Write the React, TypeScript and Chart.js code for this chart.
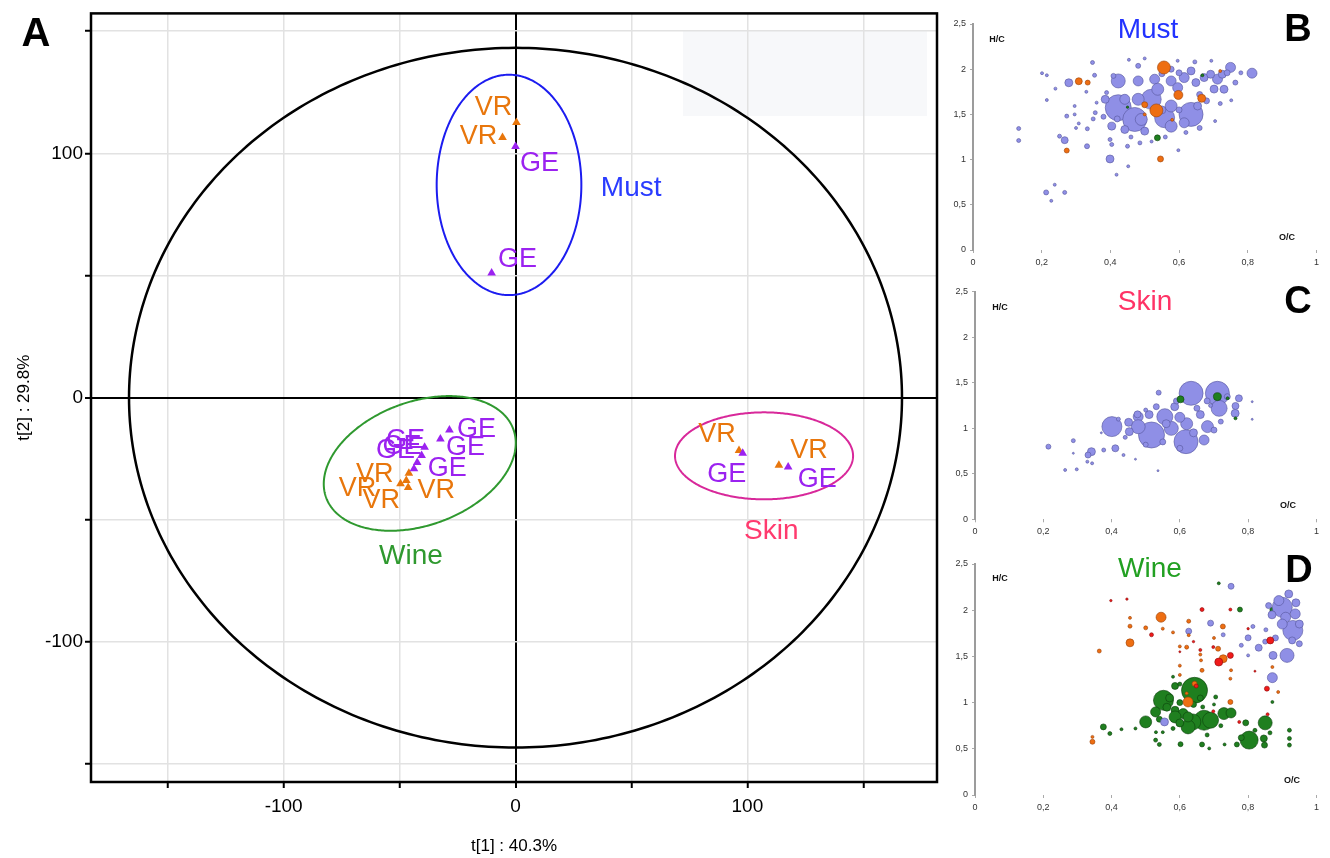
import React, { useEffect, useRef } from 'react';
import { Chart, registerables } from 'chart.js';
Chart.register(...registerables);

const NARROW = "'Liberation Sans Narrow', 'Arial Narrow', 'Liberation Sans', Arial, sans-serif";
const SANS = "'Liberation Sans', Arial, sans-serif";

const ORANGE = '#e8760c';
const PURPLE = '#9b22f0';

// ---------- Panel A: PCA scores ----------
const vrT1 = [0.4, -5.6, -46.0, -47.1, -49.6, -46.3, 96.4, 113.6];
const vrT2 = [112.6, 106.5, -30.9, -33.9, -35.2, -36.8, -21.6, -27.7];
const geT1 = [0.0, -10.3, -28.5, -32.4, -39.2, -40.5, -42.4, -43.8, 98.0, 117.6];
const geT2 = [102.8, 51.0, -13.2, -16.9, -20.3, -23.7, -26.5, -29.1, -22.7, -28.4];

// label placement (pixel offsets from the marker) - layout only
const vrLabelOffset = [[-23, -17], [-24, -3], [-34, -1], [-25, 18], [-43, 3], [28, 1], [-22, -18], [30, -17]];
const geLabelOffset = [[24, 15], [26, -16], [27, -3], [25, 6], [-19, -9], [-26, -7], [30, 4], [-12, -24], [-16, 19], [29, 10]];

const xTickLabels = [-100, 0, 100];
const yTickLabels = [-100, 0, 100];

// confidence ellipses (centre + semi-axis vectors, data units)
const hotelling = { c: [0, 0], u: [166.7, 0], v: [0, 143.2], color: '#000', width: 2.5 };
const groupEllipses = [
  { c: [-2.8, 87.1], u: [31.2, 0], v: [0, 45.1], color: '#1c1cf0', width: 2 },
  { c: [-41.3, -26.9], u: [40.39, 13.96], v: [9.11, -23.77], color: '#2f992f', width: 2 },
  { c: [107.2, -23.8], u: [38.4, 0], v: [0, 17.8], color: '#d8289a', width: 2 },
];
const groupNames = ['Must', 'Wine', 'Skin'];
const groupNameT1 = [49.9, -45.1, 110.3];
const groupNameT2 = [86.5, -63.9, -53.7];
const groupNameColors = ['#2a3cff', '#2f992f', '#ff3a6e'];

// ---------- Panels B-D: van Krevelen (O/C, H/C, size) ----------
const mustLavender = [
  [0.423, 1.574, 13], [0.471, 1.444, 12], [0.635, 1.5, 12], [0.558, 1.463, 10], [0.519, 1.667, 10], [0.423, 1.87, 7],
  [0.75, 2.02, 5], [0.8125, 1.956, 5], [0.399, 1.007, 4], [0.279, 1.85, 4], [0.267, 1.215, 3.5], [0.702, 1.78, 4],
  [0.712, 1.89, 5], [0.673, 1.907, 4], [0.481, 1.87, 5], [0.529, 1.889, 5], [0.577, 1.87, 5], [0.615, 1.907, 5],
  [0.635, 1.981, 4], [0.649, 1.852, 4], [0.692, 1.944, 4], [0.726, 1.944, 4], [0.731, 1.778, 4], [0.481, 1.667, 6],
  [0.442, 1.667, 5], [0.385, 1.667, 4], [0.49, 1.444, 6], [0.577, 1.37, 6], [0.615, 1.407, 5], [0.5, 1.315, 4],
  [0.442, 1.333, 4], [0.577, 1.593, 6], [0.538, 1.778, 6], [0.596, 1.796, 5], [0.654, 1.593, 4], [0.404, 1.37, 4],
  [0.133, 1.344, 2], [0.133, 1.211, 2], [0.213, 0.637, 2.5], [0.238, 0.722, 1.5], [0.228, 0.544, 1.5], [0.267, 0.637, 2],
  [0.201, 1.956, 1.5], [0.215, 1.933, 1.5], [0.24, 1.785, 1.5], [0.215, 1.659, 1.5], [0.252, 1.259, 2], [0.273, 1.481, 2],
  [0.296, 1.5, 1.5], [0.296, 1.593, 1.5], [0.308, 1.4, 1.5], [0.332, 1.148, 2.5], [0.333, 1.341, 2], [0.348, 2.074, 2],
  [0.354, 1.933, 2], [0.356, 1.519, 2], [0.38, 1.474, 2.5], [0.389, 1.741, 2], [0.399, 1.222, 2], [0.404, 1.167, 2],
  [0.418, 0.833, 1.5], [0.452, 0.926, 1.5], [0.45, 1.148, 2], [0.454, 2.104, 1.5], [0.5, 2.119, 1.5], [0.596, 2.093, 1.5],
  [0.646, 2.081, 2], [0.694, 2.093, 1.5], [0.764, 1.852, 2.5], [0.752, 1.656, 1.5], [0.705, 1.426, 1.5], [0.598, 1.104, 1.5],
  [0.486, 1.185, 2], [0.409, 1.926, 2.5], [0.481, 2.037, 2.5], [0.577, 2.0, 3], [0.36, 1.63, 1.5], [0.33, 1.75, 1.5],
  [0.46, 1.25, 2], [0.52, 1.2, 1.5], [0.56, 1.25, 2], [0.62, 1.3, 2], [0.66, 1.35, 2.5], [0.68, 1.65, 3], [0.72, 1.62, 2],
  [0.78, 1.96, 2], [0.74, 1.96, 3], [0.3, 1.35, 1.5], [0.35, 1.45, 2], [0.42, 1.45, 3], [0.55, 1.55, 4], [0.6, 1.55, 3],
  [0.66, 1.72, 3], [0.6, 1.96, 3], [0.55, 1.95, 3],
];
const mustOrange = [
  [0.556, 2.019, 6.5], [0.534, 1.544, 6.5], [0.598, 1.715, 4.5], [0.666, 1.678, 4], [0.308, 1.867, 3.5], [0.334, 1.852, 2.5],
  [0.546, 1.007, 3], [0.273, 1.1, 2.5], [0.5, 1.607, 3], [0.5, 1.5, 1.5], [0.58, 1.44, 1.5], [0.72, 1.98, 1.5],
];
const mustGreen = [[0.537, 1.241, 3], [0.668, 1.933, 1.5], [0.45, 1.58, 1.2]];

const skinLavender = [
  [0.401, 1.018, 10], [0.517, 0.926, 13], [0.618, 0.853, 12], [0.633, 1.384, 12], [0.71, 1.384, 12], [0.715, 1.219, 8],
  [0.681, 1.018, 6], [0.671, 0.871, 5], [0.575, 0.999, 7], [0.556, 1.127, 8], [0.478, 1.127, 5], [0.478, 1.017, 7],
  [0.62, 1.05, 6], [0.585, 1.237, 4], [0.762, 1.164, 4], [0.773, 1.329, 3.5], [0.763, 1.245, 3.5], [0.452, 0.963, 4],
  [0.45, 1.065, 4], [0.476, 1.153, 3.5], [0.411, 0.78, 3.5], [0.341, 0.743, 4], [0.331, 0.706, 3], [0.215, 0.798, 2.5],
  [0.288, 0.864, 2], [0.377, 0.761, 2], [0.538, 1.391, 2.5], [0.531, 1.237, 3], [0.51, 1.15, 4], [0.739, 1.347, 3],
  [0.72, 1.073, 2.5], [0.66, 1.15, 4], [0.6, 1.12, 5], [0.64, 0.95, 4], [0.55, 0.85, 3], [0.5, 0.82, 2.5], [0.59, 1.3, 3],
  [0.68, 1.3, 3], [0.65, 1.22, 3], [0.7, 0.98, 3], [0.42, 1.1, 2], [0.44, 0.9, 2], [0.6, 0.78, 3], [0.69, 1.25, 2],
  [0.56, 1.05, 4], [0.5, 1.2, 2], [0.264, 0.542, 1.5], [0.343, 0.615, 1.5], [0.298, 0.549, 1.5], [0.812, 1.292, 1],
  [0.812, 1.098, 1], [0.536, 0.534, 1], [0.435, 0.706, 1.5], [0.288, 0.725, 1], [0.329, 0.633, 1.5], [0.37, 0.95, 1],
  [0.47, 0.66, 1],
];
const skinGreen = [[0.602, 1.318, 3.5], [0.71, 1.347, 4], [0.763, 1.109, 1.5], [0.74, 1.33, 1.5]];

const wineGreen = [
  [0.643, 1.133, 13], [0.552, 1.025, 10], [0.671, 0.809, 10], [0.638, 0.791, 8], [0.69, 0.809, 8], [0.803, 0.594, 9],
  [0.85, 0.781, 7], [0.729, 0.881, 6], [0.75, 0.888, 5], [0.5, 0.791, 6], [0.529, 0.899, 5], [0.586, 0.917, 4],
  [0.61, 0.881, 5], [0.586, 1.18, 3.5], [0.376, 0.737, 3], [0.846, 0.612, 3.5], [0.848, 0.54, 3], [0.793, 0.781, 3],
  [0.921, 0.701, 2], [0.921, 0.612, 2], [0.921, 0.54, 2], [0.776, 2.007, 2.5], [0.714, 2.291, 1.5], [0.871, 2.004, 2.5],
  [0.871, 1.007, 1.5], [0.395, 0.665, 2], [0.429, 0.712, 1.5], [0.529, 0.594, 2], [0.54, 0.547, 2], [0.602, 0.55, 2.5],
  [0.665, 0.547, 2.5], [0.686, 0.504, 1.5], [0.731, 0.547, 1.5], [0.767, 0.547, 2.5], [0.864, 0.673, 2], [0.705, 1.061, 2],
  [0.667, 0.953, 2], [0.624, 0.737, 7], [0.586, 0.845, 6], [0.624, 0.845, 5], [0.562, 0.95, 4], [0.57, 1.05, 4],
  [0.6, 0.78, 4], [0.54, 0.82, 3], [0.58, 0.72, 2], [0.7, 0.98, 1.5], [0.72, 0.75, 2], [0.82, 0.7, 2], [0.78, 0.62, 3],
  [0.68, 0.65, 2], [0.55, 0.68, 1.5], [0.47, 0.72, 1.5], [0.64, 0.98, 3], [0.66, 1.05, 3], [0.6, 1.0, 3], [0.53, 0.68, 1.5],
  [0.6, 1.2, 2], [0.58, 1.28, 1.5],
];
const wineOrange = [
  [0.545, 1.924, 5], [0.454, 1.647, 4], [0.624, 1.007, 5], [0.727, 1.475, 4], [0.344, 0.576, 2.5], [0.344, 0.629, 1.5],
  [0.364, 1.558, 2], [0.454, 1.827, 2], [0.454, 1.917, 1.5], [0.5, 1.809, 2], [0.626, 1.881, 2], [0.626, 1.73, 1.5],
  [0.726, 1.824, 2.5], [0.712, 1.583, 2.5], [0.665, 1.349, 2], [0.643, 1.205, 2.5], [0.748, 1.007, 2.5], [0.748, 1.259, 1.5],
  [0.6, 1.608, 1.5], [0.6, 1.4, 1.5], [0.662, 1.457, 1.5], [0.871, 1.385, 1.5], [0.888, 1.115, 1.5], [0.62, 1.6, 2],
  [0.6, 1.3, 1.5], [0.58, 1.76, 1.5], [0.75, 1.35, 1.5], [0.7, 1.7, 1.5], [0.55, 1.8, 1.5], [0.62, 1.1, 1.5], [0.66, 1.52, 1.5],
];
const wineRed = [
  [0.714, 1.439, 4], [0.748, 1.511, 3], [0.865, 1.673, 3.5], [0.855, 1.151, 2.5], [0.665, 2.007, 2], [0.748, 2.007, 1.5],
  [0.517, 1.734, 2], [0.648, 1.18, 2], [0.698, 0.906, 1.5], [0.774, 0.791, 1.5], [0.857, 0.874, 1.5], [0.398, 2.104, 1.2],
  [0.445, 2.12, 1.2], [0.698, 1.601, 1.5], [0.6, 1.55, 1], [0.82, 1.34, 1], [0.8, 1.8, 1.2], [0.64, 1.66, 1.2], [0.66, 1.57, 1.5],
];
const wineLavender = [
  [0.9, 2.032, 10], [0.931, 1.781, 10], [0.914, 1.511, 7], [0.871, 1.27, 5], [0.89, 2.104, 5], [0.91, 1.924, 5],
  [0.938, 1.96, 5], [0.919, 2.176, 4], [0.873, 1.511, 4], [0.9, 1.85, 5], [0.929, 1.673, 3.5], [0.831, 1.594, 3.5],
  [0.8, 1.701, 3], [0.75, 2.259, 3], [0.69, 1.86, 3], [0.626, 1.773, 3], [0.727, 1.734, 2], [0.852, 1.788, 2],
  [0.814, 1.824, 2], [0.555, 0.791, 4], [0.8, 1.511, 1.5], [0.95, 1.637, 3], [0.88, 1.7, 3], [0.87, 1.95, 4],
  [0.94, 2.08, 4], [0.86, 2.05, 3], [0.95, 1.85, 4], [0.85, 1.66, 2.5], [0.78, 1.62, 2],
];

const LAV = { fill: '#8f8fe6', stroke: '#55559c' };
const ORG = { fill: '#ee6e12', stroke: '#9a4208' };
const GRN = { fill: '#1f7f1f', stroke: '#0c3f0c' };
const RED = { fill: '#f01a1a', stroke: '#8a0a0a' };

function ellipsePath(chart: any, e: any) {
  const xs = chart.scales.x, ys = chart.scales.y;
  const ctx = chart.ctx;
  ctx.save();
  ctx.beginPath();
  for (let i = 0; i <= 360; i++) {
    const t = (i * Math.PI) / 180;
    const dx = e.c[0] + Math.cos(t) * e.u[0] + Math.sin(t) * e.v[0];
    const dy = e.c[1] + Math.cos(t) * e.u[1] + Math.sin(t) * e.v[1];
    const px = xs.getPixelForValue(dx), py = ys.getPixelForValue(dy);
    if (i === 0) ctx.moveTo(px, py); else ctx.lineTo(px, py);
  }
  ctx.closePath();
  ctx.strokeStyle = e.color;
  ctx.lineWidth = e.width;
  ctx.stroke();
  ctx.restore();
}

function capText(ctx: any, text: string, x: number, y: number, size: number, color: string, weight = 'normal', family = SANS) {
  ctx.save();
  ctx.font = `${weight} ${size}px ${family}`;
  ctx.fillStyle = color;
  ctx.textAlign = 'center';
  ctx.textBaseline = 'alphabetic';
  ctx.fillText(text, x, y + size * 0.358);
  ctx.restore();
}

const panelAPlugin = {
  id: 'panelA',
  beforeDraw(chart: any) {
    const ctx = chart.ctx;
    ctx.save();
    ctx.fillStyle = '#f7f8fa';
    ctx.fillRect(683, 30, 244, 86);
    ctx.restore();
  },
  beforeDatasetsDraw(chart: any) {
    ellipsePath(chart, hotelling);
    groupEllipses.forEach((e) => ellipsePath(chart, e));
  },
  afterDatasetsDraw(chart: any) {
    const ctx = chart.ctx;
    const xs = chart.scales.x, ys = chart.scales.y;
    vrT1.forEach((x, i) => {
      const px = xs.getPixelForValue(x) + vrLabelOffset[i][0];
      const py = ys.getPixelForValue(vrT2[i]) + vrLabelOffset[i][1];
      capText(ctx, 'VR', px, py, 27, ORANGE);
    });
    geT1.forEach((x, i) => {
      const px = xs.getPixelForValue(x) + geLabelOffset[i][0];
      const py = ys.getPixelForValue(geT2[i]) + geLabelOffset[i][1];
      capText(ctx, 'GE', px, py, 27, PURPLE);
    });
    groupNames.forEach((n, i) => {
      capText(ctx, n, xs.getPixelForValue(groupNameT1[i]), ys.getPixelForValue(groupNameT2[i]), 28, groupNameColors[i]);
    });
    const a = chart.chartArea;
    ctx.save();
    ctx.strokeStyle = '#000';
    ctx.lineWidth = 2.5;
    ctx.strokeRect(a.left, a.top, a.right - a.left, a.bottom - a.top);
    ctx.restore();
    capText(ctx, 'A', 36, 32, 40, '#000', 'bold');
  },
};

function annotPlugin(texts: any[]) {
  return {
    id: 'annot',
    afterDraw(chart: any) {
      texts.forEach((t) => capText(chart.ctx, t.text, t.x, t.y, t.size, t.color, t.weight || 'normal'));
    },
  };
}

const fmt = (v: any) => String(+Number(v).toFixed(1)).replace('.', ',');

function vkConfig(o: any) {
  return {
    type: 'bubble',
    data: {
      datasets: o.groups.map((g: any) => ({
        data: g.pts.map((p: number[]) => ({ x: p[0], y: p[1], r: p[2] })),
        backgroundColor: g.col.fill,
        borderColor: g.col.stroke,
        borderWidth: 0.6,
        hoverRadius: 0,
      })),
    },
    options: {
      responsive: false,
      animation: false,
      events: [],
      layout: { padding: { left: 0, right: o.padRight, top: o.padTop, bottom: 0 } },
      plugins: { legend: { display: false }, tooltip: { enabled: false } },
      scales: {
        x: {
          type: 'linear', min: 0, max: 1,
          afterFit: (s: any) => { s.height = o.xH; },
          border: { display: false },
          grid: { drawOnChartArea: false, drawTicks: true, tickLength: 3, tickColor: '#aaa', tickWidth: 1 },
          ticks: { stepSize: 0.2, padding: 4, color: '#333', font: { family: SANS, size: 9 }, callback: fmt, maxRotation: 0 },
        },
        y: {
          type: 'linear', min: 0, max: 2.5,
          afterFit: (s: any) => { s.width = o.yW; },
          border: { display: true, color: '#9c9c9c', width: 2 },
          grid: { drawOnChartArea: false, drawTicks: true, tickLength: 3, tickColor: '#aaa', tickWidth: 1 },
          ticks: { stepSize: 0.5, padding: 4, color: '#333', font: { family: SANS, size: 9 }, callback: fmt },
        },
      },
    },
    plugins: [annotPlugin(o.texts)],
  } as any;
}

export default function App() {
  const refA = useRef<HTMLCanvasElement>(null);
  const refB = useRef<HTMLCanvasElement>(null);
  const refC = useRef<HTMLCanvasElement>(null);
  const refD = useRef<HTMLCanvasElement>(null);

  useEffect(() => {
    const gridColor = (c: any) => (c.tick && c.tick.value === 0 ? '#000' : '#e2e2e2');
    const gridWidth = (c: any) => (c.tick && c.tick.value === 0 ? 2 : 1.5);
    const chartA = new Chart(refA.current as any, {
      type: 'scatter',
      data: {
        datasets: [
          {
            label: 'GE',
            data: geT1.map((x, i) => ({ x, y: geT2[i] })),
            pointStyle: 'triangle', pointRadius: 5, backgroundColor: PURPLE, borderColor: PURPLE, borderWidth: 0,
          },
          {
            label: 'VR',
            data: vrT1.map((x, i) => ({ x, y: vrT2[i] })),
            pointStyle: 'triangle', pointRadius: 5, backgroundColor: ORANGE, borderColor: ORANGE, borderWidth: 0,
          },
        ],
      },
      options: {
        responsive: false,
        animation: false,
        events: [],
        layout: { padding: { left: 0, right: 2, top: 11, bottom: 0 } },
        plugins: { legend: { display: false }, tooltip: { enabled: false } },
        scales: {
          x: {
            type: 'linear', min: -183.1, max: 181.8,
            afterFit: (s: any) => { s.height = 76; },
            border: { display: false },
            grid: { color: gridColor, lineWidth: gridWidth, drawTicks: true, tickLength: 6, tickColor: '#000', tickWidth: 2 },
            ticks: {
              stepSize: 50, includeBounds: false, autoSkip: false, maxRotation: 0, padding: 7, color: '#000',
              font: { family: NARROW, size: 19 },
              callback: (v: any) => (xTickLabels.includes(Number(v)) ? String(v) : ''),
            },
            title: { display: true, text: 't[1] : 40.3%', color: '#000', font: { family: NARROW, size: 17 }, padding: { top: 0, bottom: 1 } },
          },
          y: {
            type: 'linear', min: -157.3, max: 157.3,
            afterFit: (s: any) => { s.width = 91; },
            border: { display: false },
            grid: { color: gridColor, lineWidth: gridWidth, drawTicks: true, tickLength: 6, tickColor: '#000', tickWidth: 2 },
            ticks: {
              stepSize: 50, includeBounds: false, autoSkip: false, padding: 2, color: '#000',
              font: { family: NARROW, size: 19 },
              callback: (v: any) => (yTickLabels.includes(Number(v)) ? String(v) : ''),
            },
            title: { display: true, text: 't[2] : 29.8%', color: '#000', font: { family: NARROW, size: 17 }, padding: { top: 14, bottom: 0 } },
          },
        },
      },
      plugins: [panelAPlugin],
    } as any);

    const chartB = new Chart(refB.current as any, vkConfig({
      padTop: 24, padRight: 10, xH: 30, yW: 33,
      groups: [
        { pts: mustGreen, col: GRN },
        { pts: mustOrange, col: ORG },
        { pts: mustLavender, col: LAV },
      ],
      texts: [
        { text: 'Must', x: 208, y: 28, size: 28, color: '#2233ff' },
        { text: 'B', x: 358, y: 27, size: 38, color: '#000', weight: 'bold' },
        { text: 'H/C', x: 57, y: 39, size: 9, color: '#111', weight: 'bold' },
        { text: 'O/C', x: 347, y: 237, size: 9, color: '#111', weight: 'bold' },
      ],
    }));
    const chartC = new Chart(refC.current as any, vkConfig({
      padTop: 21.7, padRight: 10, xH: 20.7, yW: 35,
      groups: [
        { pts: skinGreen, col: GRN },
        { pts: skinLavender, col: LAV },
      ],
      texts: [
        { text: 'Skin', x: 205, y: 30, size: 28, color: '#ff3366' },
        { text: 'C', x: 358, y: 29, size: 38, color: '#000', weight: 'bold' },
        { text: 'H/C', x: 60, y: 37, size: 9, color: '#111', weight: 'bold' },
        { text: 'O/C', x: 348, y: 235, size: 9, color: '#111', weight: 'bold' },
      ],
    }));
    const chartD = new Chart(refD.current as any, vkConfig({
      padTop: 24, padRight: 5, xH: 63, yW: 35,
      groups: [
        { pts: wineRed, col: RED },
        { pts: wineOrange, col: ORG },
        { pts: wineLavender, col: LAV },
        { pts: wineGreen, col: GRN },
      ],
      texts: [
        { text: 'Wine', x: 210, y: 27, size: 28, color: '#22a022' },
        { text: 'D', x: 359, y: 28, size: 38, color: '#000', weight: 'bold' },
        { text: 'H/C', x: 60, y: 38, size: 9, color: '#111', weight: 'bold' },
        { text: 'O/C', x: 352, y: 240, size: 9, color: '#111', weight: 'bold' },
      ],
    }));

    return () => {
      chartA.destroy();
      chartB.destroy();
      chartC.destroy();
      chartD.destroy();
    };
  }, []);

  const abs = (left: number, top: number): React.CSSProperties => ({ position: 'absolute', left, top, display: 'block' });

  return (
    <div style={{ position: 'fixed', left: 0, top: 0, width: 1330, height: 858, background: '#fff', overflow: 'hidden' }}>
      <canvas ref={refA} width={942} height={858} style={abs(0, 0)} />
      <canvas ref={refB} width={390} height={280} style={abs(940, 0)} />
      <canvas ref={refC} width={390} height={270} style={abs(940, 270)} />
      <canvas ref={refD} width={390} height={318} style={abs(940, 540)} />
    </div>
  );
}
